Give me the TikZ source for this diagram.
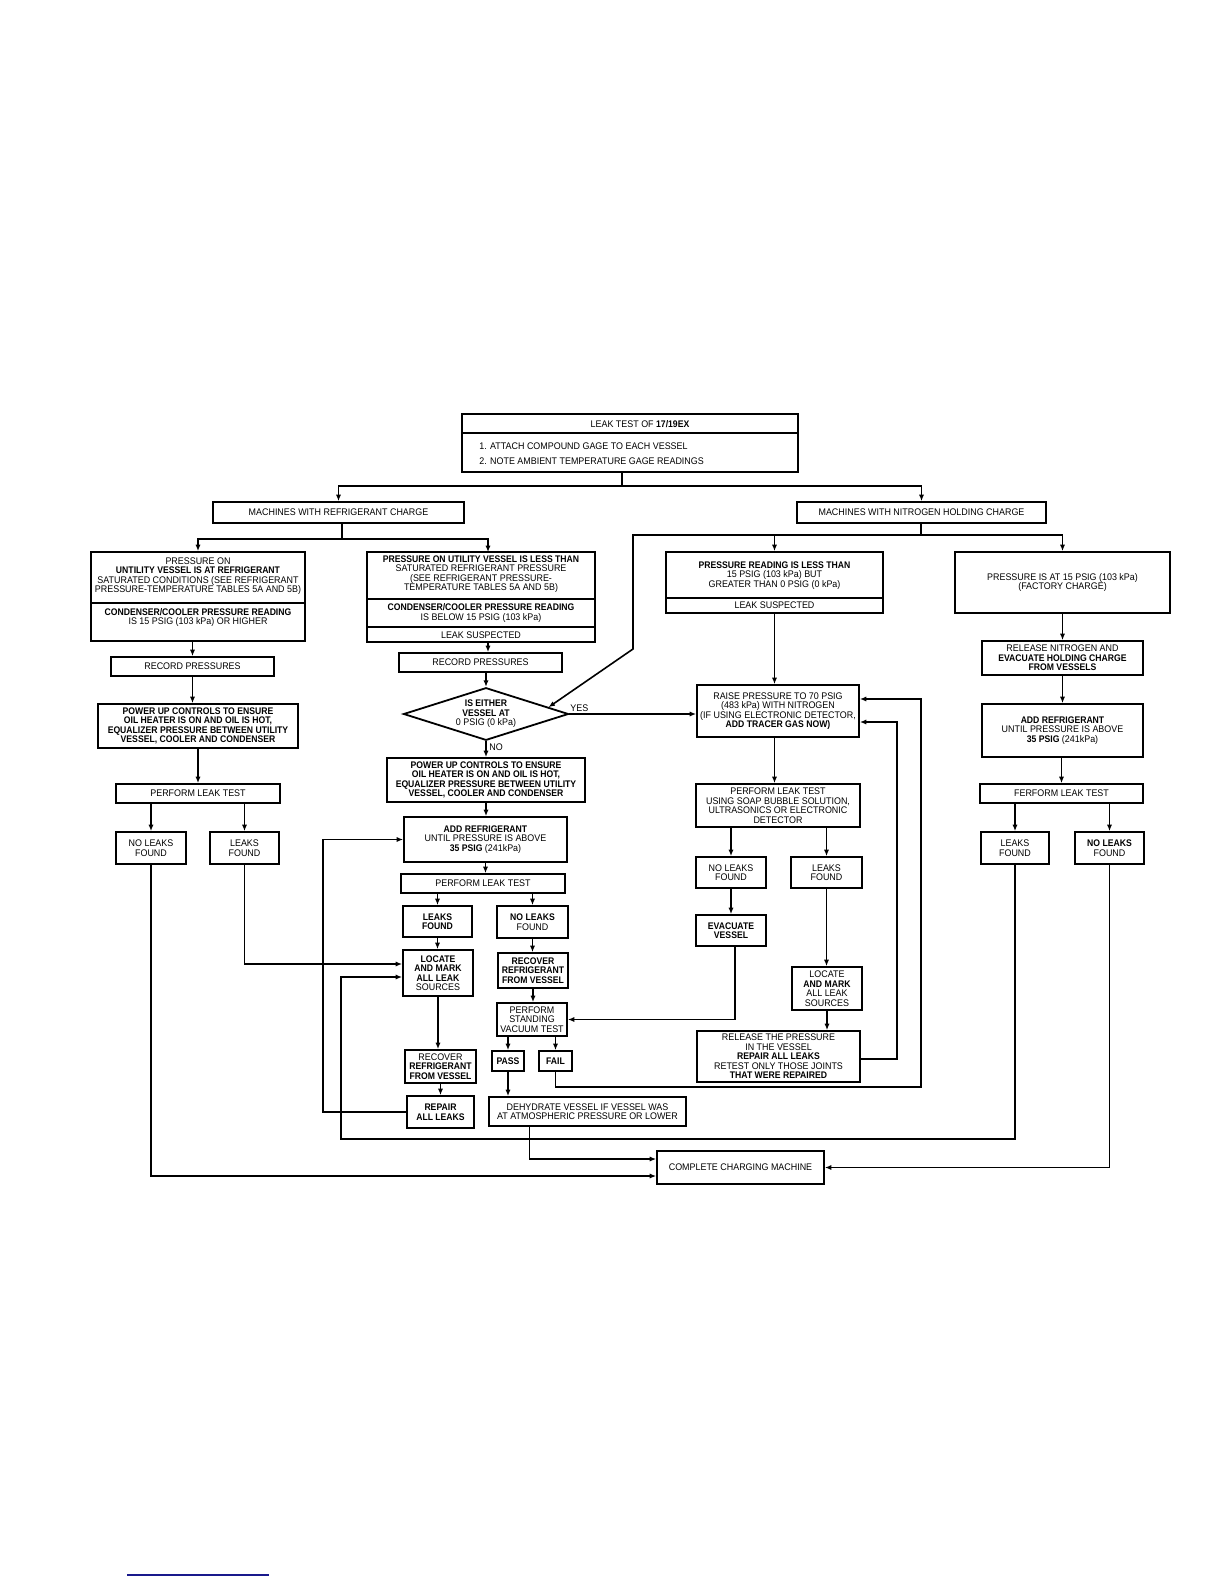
\documentclass[tikz,border=0pt]{standalone}
\usepackage{fontspec}
\setmainfont{Liberation Sans}[FakeStretch=0.93,BoldFeatures={FakeStretch=0.9}]
\usetikzlibrary{arrows.meta,shapes.geometric,calc}
\newcommand\fs{\fontsize{4.8}{4.75}\selectfont}
\newcommand\bx[6]{\node[box,minimum width={(#4-#2)*0.5pt},minimum height={(#5-#3)*0.5pt}] (#1) at ({(#2+#4)/2},{(#3+#5)/2}) {#6};}
\tikzset{
 box/.style={draw,line width=0.9pt,inner sep=0pt,align=center,font=\fs},
 txt/.style={inner sep=0pt,align=center,font=\fs},
 arr/.style={line width=0.8pt,-{Latex[length=3.2pt,width=2.6pt]}},
 ln/.style={line width=0.8pt},
}
\definecolor{navyline}{RGB}{25,25,140}
\begin{document}
\begin{tikzpicture}[x=0.5pt,y=-0.5pt]
\path[fill=white,use as bounding box] (0,0) rectangle (1224,1584);
% top box
\bx{T}{462}{414}{798}{472}{}
\draw[line width=0.9pt] (462,433) -- (798,433);
\node[txt] (T0) at (640,424) {LEAK TEST OF \textbf{17/19EX}};
\node[txt,anchor=west] (T1) at (479,446) {1. ATTACH COMPOUND GAGE TO EACH VESSEL};
\node[txt,anchor=west] (T2) at (479,461) {2. NOTE AMBIENT TEMPERATURE GAGE READINGS};
\bx{RC}{213}{502}{464}{523}{MACHINES WITH REFRIGERANT CHARGE}
\bx{NC}{797}{502}{1046}{523}{MACHINES WITH NITROGEN HOLDING CHARGE}
% left column
\bx{L1}{91}{552}{305}{641}{}
\draw[line width=0.9pt] (91,603) -- (305,603);
\node[txt] (L1a) at (198,576) {PRESSURE ON\\\textbf{UNTILITY VESSEL IS AT REFRIGERANT}\\SATURATED CONDITIONS (SEE REFRIGERANT\\PRESSURE-TEMPERATURE TABLES 5A AND 5B)};
\node[txt] (L1b) at (198,617.5) {\textbf{CONDENSER/COOLER PRESSURE READING}\\IS 15 PSIG (103 kPa) OR HIGHER};
\bx{L2}{111}{657}{274}{676}{RECORD PRESSURES}
\bx{L3}{98}{704}{298}{748}{\textbf{POWER UP CONTROLS TO ENSURE}\\\textbf{OIL HEATER IS ON AND OIL IS HOT,}\\\textbf{EQUALIZER PRESSURE BETWEEN UTILITY}\\\textbf{VESSEL, COOLER AND CONDENSER}}
\bx{L4}{116}{784}{280}{803}{PERFORM LEAK TEST}
\bx{L5}{116}{832}{186}{864}{NO LEAKS\\FOUND}
\bx{L6}{210}{832}{279}{864}{LEAKS\\FOUND}
% middle column
\bx{M1}{367}{552}{595}{642}{}
\draw[line width=0.9pt] (367,599) -- (595,599);
\draw[line width=0.9pt] (367,627) -- (595,627);
\node[txt] (M1a) at (481,574) {\textbf{PRESSURE ON UTILITY VESSEL IS LESS THAN}\\SATURATED REFRIGERANT PRESSURE\\(SEE REFRIGERANT PRESSURE-\\TEMPERATURE TABLES 5A AND 5B)};
\node[txt] (M1b) at (481,613) {\textbf{CONDENSER/COOLER PRESSURE READING}\\IS BELOW 15 PSIG (103 kPa)};
\node[txt] (M1c) at (481,635) {LEAK SUSPECTED};
\bx{M2}{399}{653}{562}{672}{RECORD PRESSURES}
\node[diamond,draw,line width=0.9pt,inner sep=0pt,aspect=3.2,minimum width=82.5pt,minimum height=26.3pt,align=center,font=\fs] (D) at (486,714) {\textbf{IS EITHER}\\\textbf{VESSEL AT}\\0 PSIG (0 kPa)};
\node[txt,anchor=south west] (yes) at (570,712) {YES};
\node[txt,anchor=west] (no) at (489,747) {NO};
\bx{M3}{387}{758}{585}{802}{\textbf{POWER UP CONTROLS TO ENSURE}\\\textbf{OIL HEATER IS ON AND OIL IS HOT,}\\\textbf{EQUALIZER PRESSURE BETWEEN UTILITY}\\\textbf{VESSEL, COOLER AND CONDENSER}}
\bx{M4}{404}{817}{567}{862}{\textbf{ADD REFRIGERANT}\\UNTIL PRESSURE IS ABOVE\\\textbf{35 PSIG} (241kPa)}
\bx{M5}{401}{874}{565}{893}{PERFORM LEAK TEST}
\bx{M6}{403}{906}{472}{937}{\textbf{LEAKS}\\\textbf{FOUND}}
\bx{M7}{497}{906}{568}{938}{\textbf{NO LEAKS}\\FOUND}
\bx{M8}{403}{950}{473}{996}{\textbf{LOCATE}\\\textbf{AND MARK}\\\textbf{ALL LEAK}\\SOURCES}
\bx{M9}{498}{953}{568}{988}{\textbf{RECOVER}\\\textbf{REFRIGERANT}\\\textbf{FROM VESSEL}}
\bx{M10}{497}{1003}{567}{1036}{PERFORM\\STANDING\\VACUUM TEST}
\bx{PASS}{492}{1051}{524}{1071}{\textbf{PASS}}
\bx{FAIL}{539}{1051}{572}{1071}{\textbf{FAIL}}
\bx{M11}{405}{1050}{476}{1083}{RECOVER\\\textbf{REFRIGERANT}\\\textbf{FROM VESSEL}}
\bx{M12}{407}{1096}{474}{1128}{\textbf{REPAIR}\\\textbf{ALL LEAKS}}
\bx{DH}{489}{1097}{686}{1126}{DEHYDRATE VESSEL IF VESSEL WAS\\AT ATMOSPHERIC PRESSURE OR LOWER}
\bx{CM}{657}{1151}{824}{1184}{COMPLETE CHARGING MACHINE}
% nitrogen, left branch
\bx{N1}{666}{552}{883}{613}{}
\draw[line width=0.9pt] (666,598) -- (883,598);
\node[txt] (N1a) at (774.5,575.5) {\textbf{PRESSURE READING IS LESS THAN}\\15 PSIG (103 kPa) BUT\\GREATER THAN 0 PSIG (0 kPa)};
\node[txt] (N1b) at (774.5,605.5) {LEAK SUSPECTED};
\bx{RA}{697}{685}{859}{737}{RAISE PRESSURE TO 70 PSIG\\(483 kPa) WITH NITROGEN\\(IF USING ELECTRONIC DETECTOR,\\\textbf{ADD TRACER GAS NOW)}}
\bx{P}{696}{784}{860}{827}{PERFORM LEAK TEST\\USING SOAP BUBBLE SOLUTION,\\ULTRASONICS OR ELECTRONIC\\DETECTOR}
\bx{Q1}{696}{857}{766}{888}{NO LEAKS\\FOUND}
\bx{Q2}{791}{857}{862}{888}{LEAKS\\FOUND}
\bx{Q3}{696}{915}{766}{946}{\textbf{EVACUATE}\\\textbf{VESSEL}}
\bx{Q4}{792}{967}{862}{1010}{LOCATE\\\textbf{AND MARK}\\ALL LEAK\\SOURCES}
\bx{Q5}{697}{1031}{860}{1082}{RELEASE THE PRESSURE\\IN THE VESSEL\\\textbf{REPAIR ALL LEAKS}\\RETEST ONLY THOSE JOINTS\\\textbf{THAT WERE REPAIRED}}
% nitrogen, right branch
\bx{R1}{955}{552}{1170}{613}{PRESSURE IS AT 15 PSIG (103 kPa)\\(FACTORY CHARGE)}
\bx{R2}{982}{641}{1143}{675}{RELEASE NITROGEN AND\\\textbf{EVACUATE HOLDING CHARGE}\\\textbf{FROM VESSELS}}
\bx{R3}{982}{704}{1143}{757}{\textbf{ADD REFRIGERANT}\\UNTIL PRESSURE IS ABOVE\\\textbf{35 PSIG} (241kPa)}
\bx{R4}{980}{784}{1143}{803}{FERFORM LEAK TEST}
\bx{R5}{981}{832}{1049}{864}{LEAKS\\FOUND}
\bx{R6}{1075}{832}{1144}{864}{\textbf{NO LEAKS}\\FOUND}
% ---------- connectors
\coordinate (br) at (622,486);
\draw[ln] (T.south -| br) -- (br);
\draw[arr] (br) -| (RC.north);
\draw[arr] (br) -| (NC.north);
\coordinate (rcb) at (342,539);
\draw[ln] (RC.south -| rcb) -- (rcb);
\draw[arr] (rcb) -| (L1.north);
\coordinate (m1in) at (488,552);
\draw[arr] (rcb) -| (m1in);
\coordinate (ncb) at (921,535);
\coordinate (nl) at (633,535);
\coordinate (nd) at (633,649);
\draw[ln] (NC.south -| ncb) -- (ncb);
\draw[arr] (ncb) -| (N1.north);
\draw[arr] (ncb) -| (R1.north);
\draw[arr] (ncb) -- (nl) -- (nd) -- ($(D.north)!0.75!(D.east)$);
% left column
\draw[arr] (L1.south -| L2.north) -- (L2.north);
\draw[arr] (L2.south) -- (L2.south |- L3.north);
\draw[arr] (L3.south) -- (L3.south |- L4.north);
\draw[arr] (L4.south -| L5.north) -- (L5.north);
\draw[arr] (L4.south -| L6.north) -- (L6.north);
\draw[arr] (L6.south) |- ([yshift=4.5pt]M8.west);
\draw[arr] (L5.south) |- ([yshift=-4.25pt]CM.west);
% middle column
\draw[arr] (M1.south -| m1in) -- (M2.north -| m1in);
\draw[arr] (M2.south -| D.north) -- (D.north);
\draw[arr] (D.south) -- (D.south |- M3.north);
\draw[arr] (D.east) -- (D.east -| RA.west);
\draw[arr] (M3.south) -- (M3.south |- M4.north);
\draw[arr] (M4.south) -- (M4.south |- M5.north);
\draw[arr] (M5.south -| M6.north) -- (M6.north);
\draw[arr] (M5.south -| M7.north) -- (M7.north);
\draw[arr] (M6.south) -- (M6.south |- M8.north);
\draw[arr] (M7.south) -- (M7.south |- M9.north);
\draw[arr] (M9.south) -- (M9.south |- M10.north);
\draw[arr] (M10.south -| PASS.north) -- (PASS.north);
\draw[arr] (M10.south -| FAIL.north) -- (FAIL.north);
\draw[arr] (PASS.south) -- (PASS.south |- DH.north);
\draw[arr] (M8.south) -- (M8.south |- M11.north);
\draw[arr] (M11.south) -- (M11.south |- M12.north);
\coordinate (lp2) at (323,839.5);
\draw[arr] (M12.west) -| (lp2) -- (M4.west);
\draw[arr] ([xshift=-29pt]DH.south) |- ([yshift=4.25pt]CM.west);
% fail loop
\coordinate (fd) at (555.5,1087);
\coordinate (fr) at (921,1087);
\coordinate (fu) at (921,699);
\draw[arr] (FAIL.south) -- (fd) -- (fr) -- (fu) -- (fu -| RA.east);
% nitrogen left branch
\draw[arr] (N1.south) -- (N1.south |- RA.north);
\draw[arr] (RA.south -| N1.south) -- (P.north -| N1.south);
\draw[arr] (P.south -| Q1.north) -- (Q1.north);
\draw[arr] (P.south -| Q2.north) -- (Q2.north);
\draw[arr] (Q1.south) -- (Q1.south |- Q3.north);
\draw[arr] (Q2.south) -- (Q2.south |- Q4.north);
\draw[arr] (Q4.south) -- (Q4.south |- Q5.north);
\draw[arr] ([xshift=2pt]Q3.south) |- (M10.east);
\coordinate (qr) at (897,1059);
\coordinate (qu) at (897,722);
\draw[arr] (Q5.east |- qr) -- (qr) -- (qu) -- (qu -| RA.east);
% nitrogen right branch
\draw[arr] (R1.south -| R2.north) -- (R2.north);
\draw[arr] (R2.south) -- (R2.south |- R3.north);
\draw[arr] (R3.south -| R4.north) -- (R4.north);
\draw[arr] (R4.south -| R5.north) -- (R5.north);
\draw[arr] (R4.south -| R6.north) -- (R6.north);
\coordinate (lp) at (341,1139);
\draw[arr] (R5.south) |- (lp) |- ([yshift=-2pt]M8.west);
\draw[arr] (R6.south) |- (CM.east);
% footer rule
\coordinate (fa) at (127,1575);
\coordinate (fb) at (269,1575);
\draw[navyline,line width=0.6pt] (fa) -- (fb);
\end{tikzpicture}
\end{document}
